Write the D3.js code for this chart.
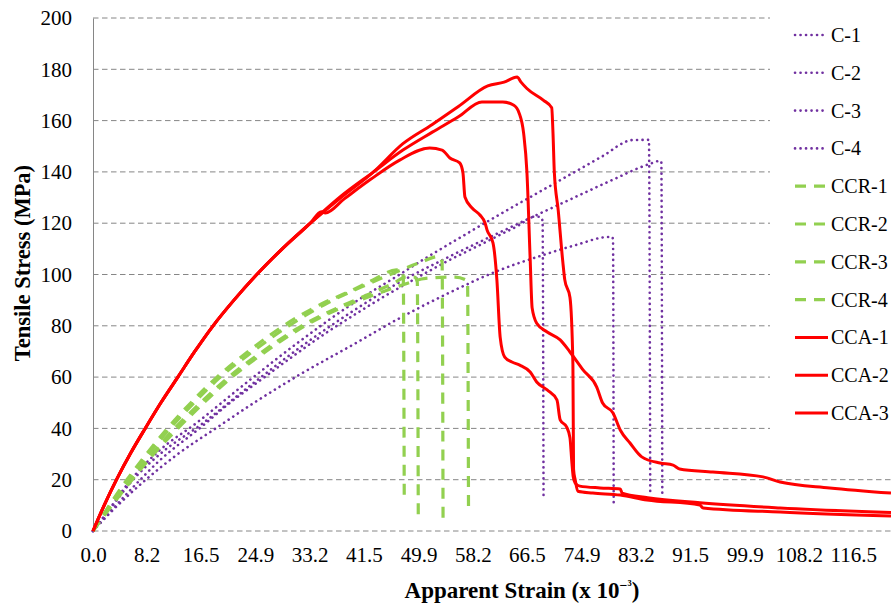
<!DOCTYPE html>
<html lang="en">
<head>
<meta charset="UTF-8">
<title>Tensile Stress vs Apparent Strain</title>
<script src="https://cdn.jsdelivr.net/npm/d3@7"></script>
<style>
  body { margin: 0; background: #fff; }
  svg text { font-family: "Liberation Serif", "Times New Roman", Times, "DejaVu Serif", serif; fill: #000; }
</style>
</head>
<body>
<svg id="main" width="891" height="603"></svg>
<script>
// axis ticks
const xTickLabels = ["0.0", "8.2", "16.5", "24.9", "33.2", "41.5", "49.9", "58.2", "66.5", "74.9", "83.2", "91.5", "99.9", "108.2", "116.5"];
const yTicks = [0, 20, 40, 60, 80, 100, 120, 140, 160, 180, 200];

// series names, in legend order
const seriesNames = ["C-1", "C-2", "C-3", "C-4", "CCR-1", "CCR-2", "CCR-3", "CCR-4", "CCA-1", "CCA-2", "CCA-3"];

// [apparent strain (x10^-3), tensile stress (MPa)]
const c1 = [[0,0],[3,8.5],[6.3,17.5],[10,27],[16.8,41],[21,50],[25.5,58.5],[30.3,67.5],[35.3,76.5],[40.5,85],[45,92],[49.5,98.5],[54.7,105.7],[58.5,110.5],[62.4,115.5],[65.5,119.5],[67.5,122.5],[68.5,122.5],[68.9,121],[69.05,12]];
const c2 = [[0,0],[3,8],[8.1,20],[13,30],[18.8,40],[25,50.5],[31.7,61],[39.4,72],[47,83],[54.7,93],[62.4,101.8],[69,107.6],[74,111.5],[79,114.6],[79.6,114.6],[79.7,113],[79.8,10]];
const c3 = [[0,0],[2.5,8.5],[5.5,19],[10,31],[15.8,42],[23.6,58],[31.7,74],[40,89],[47,100],[50.1,105],[56,114],[62.4,123.5],[73.5,139.5],[78,146],[82.7,152.4],[85.2,152.5],[85.4,15]];
const c4 = [[0,0],[2.6,8.5],[5.8,19],[10.5,30.5],[16.3,41],[24.5,57.5],[32.5,73],[40,86],[47,97],[53.6,105.7],[62.4,116.5],[74.6,131],[79.7,137],[85.4,143.2],[86.9,144.3],[87.1,144],[87.25,14.8]];
const ccr1 = [[0,0],[2.5,10],[5.2,20],[8.2,30],[11.4,40],[15,50],[19,60],[23.8,70],[29.2,80],[35,88.5],[39.4,93.5],[43,98],[46.5,101.8],[47.4,101],[47.55,99],[47.7,13]];
const ccr2 = [[0,0],[2.8,10],[5.8,20],[9,30],[12.5,40],[16.5,50],[20.8,60],[26,70],[32,80],[37.5,87],[42,92],[46,96.5],[48,99],[49.3,99],[49.7,97],[49.85,6]];
const ccr3 = [[0,0],[2.6,10],[5.4,20],[8.5,30],[11.8,40],[15.5,50],[19.5,60],[24.5,70],[30,80],[36,89],[41,95],[46,100.5],[50,104.5],[53,107],[53.5,105],[53.65,3.5]];
const ccr4 = [[0,0],[2.9,10],[6,20],[9.3,30],[13,40],[17,50],[21.3,60],[26.5,70],[32.5,80],[38,87],[43,92],[47.5,96],[51,98.5],[55.5,99],[57.4,97.5],[57.55,7]];
const cca1 = [[0,0],[1.8,10.5],[3.7,20.5],[5.8,30.5],[8,40],[10.4,50],[13,60],[15.6,70],[18.4,80],[21.6,90],[25.1,100],[29,110],[33.3,120],[38,130],[43,140],[47.5,151],[52,158.5],[56,165.5],[60.5,173.5],[63,175],[65,177],[65.6,175],[66.5,172.5],[69,168],[70.3,165],[70.5,155],[70.7,140],[71.3,125],[72,105],[72.3,98],[73.1,91],[73.55,65],[73.65,24],[73.9,20],[74.3,15.5],[76.6,14.8],[80.8,14],[84.9,12.1],[93,10.1],[93.5,9],[105.3,7.4],[122.3,5.8]];
const cca2 = [[0,0],[1.8,10.5],[3.7,20.5],[5.8,30.5],[8,40],[10.4,50],[13,60],[15.6,70],[18.4,80],[21.6,90],[25.1,100],[29,110],[33.3,120],[38,130.5],[43,140],[47.5,148.5],[52,155.5],[56,161.5],[59.6,167.3],[62.8,167.3],[64.5,166],[65.3,163],[66,155],[66.5,140],[67,106],[67.3,87],[68,81],[69.6,77.6],[71.6,74.5],[73.1,69.8],[75.1,62.8],[77.2,56.1],[78.1,49.9],[79.7,46],[80.8,39.4],[82.3,34.3],[84.1,28.9],[86.9,26.5],[88.9,25.7],[89.9,24.2],[95,23],[102.7,21.1],[105.3,19.1],[112.9,16.8],[122.3,14.8]];
const cca3 = [[0,0],[1.8,10.5],[3.7,20.5],[5.8,30.5],[8,40],[10.4,50],[13,60],[15.6,70],[18.4,80],[21.6,90],[25.1,100],[29,110],[33.3,120],[35,124.5],[35.6,124],[38.5,129.5],[42.5,137],[47,144.6],[51.6,149.3],[53.5,148.5],[54.7,145.4],[56.2,143.5],[56.7,139.6],[57,130.2],[58.1,125.9],[59.3,123.2],[60.1,120],[60.4,117.3],[61.3,112.3],[61.9,97.9],[62.4,75.6],[63.1,67.8],[64.2,65.9],[65.4,64.7],[67,62],[68,58.1],[69.6,55],[71.1,51.1],[71.6,43.3],[72.6,40.5],[73.1,36.3],[73.4,26.5],[73.6,21.1],[73.9,18.7],[74.6,17.5],[77.7,16.8],[80.8,16.4],[81.1,14.8],[85,13],[93,11],[105.3,9],[122.3,7.2]];

const seriesData = [c1, c2, c3, c4, ccr1, ccr2, ccr3, ccr4, cca1, cca2, cca3];

const styles = {
    C:   { stroke: "#7030a0", width: 2.6, dash: "0.1,5.4", cap: "round" },
    CCR: { stroke: "#92d050", width: 3.2, dash: "11,8", cap: "butt" },
    CCA: { stroke: "#ff0000", width: 3, dash: null, cap: "butt" }
};
function styleOf(name) { return styles[name.split("-")[0]]; }

const FONT = '"Liberation Serif", "Times New Roman", Times, "DejaVu Serif", serif';

const svg = d3.select("#main");
const x = d3.scaleLinear().domain([0, 122.3]).range([93, 891]);
const y = d3.scaleLinear().domain([0, 200]).range([531, 18]);

// gridlines
svg.append("g")
    .selectAll("line")
    .data(yTicks)
    .join("line")
    .attr("x1", x(0))
    .attr("x2", x(122.3))
    .attr("y1", d => y(d))
    .attr("y2", d => y(d))
    .attr("stroke", "#868686")
    .attr("stroke-width", 1)
    .attr("stroke-dasharray", "5.5,3.5");

// y axis
const yAxis = svg.append("g")
    .attr("transform", `translate(${x(0)},0)`)
    .call(d3.axisLeft(y).tickValues(yTicks).tickSize(0).tickPadding(21).tickFormat(d3.format("d")));
yAxis.attr("font-family", FONT).attr("font-size", 21);
yAxis.select(".domain").attr("stroke", "#868686");

// x axis (labels only)
const xAxis = svg.append("g")
    .attr("transform", `translate(0,${y(0)})`)
    .call(d3.axisBottom(x).tickValues(xTickLabels.map(Number)).tickSize(0).tickPadding(16)
        .tickFormat((d, i) => xTickLabels[i]));
xAxis.attr("font-family", FONT).attr("font-size", 21);
xAxis.select(".domain").remove();

// series
const line = d3.line().x(d => x(d[0])).y(d => y(d[1])).curve(d3.curveMonotoneX);
svg.append("g")
    .selectAll("path")
    .data(seriesData)
    .join("path")
    .attr("d", line)
    .attr("fill", "none")
    .attr("stroke", (d, i) => styleOf(seriesNames[i]).stroke)
    .attr("stroke-width", (d, i) => styleOf(seriesNames[i]).width)
    .attr("stroke-dasharray", (d, i) => styleOf(seriesNames[i]).dash)
    .attr("stroke-linecap", (d, i) => styleOf(seriesNames[i]).cap)
    .attr("stroke-linejoin", "round");

// legend
const legend = svg.append("g");
legend.append("rect")
    .attr("x", 770).attr("y", 0).attr("width", 121).attr("height", 455)
    .attr("fill", "#fff");
const item = legend.selectAll("g")
    .data(seriesNames)
    .join("g")
    .attr("transform", (d, i) => `translate(795,${35 + i * 37.8})`);
item.append("line")
    .attr("x1", 0).attr("x2", 33)
    .attr("stroke", d => styleOf(d).stroke)
    .attr("stroke-width", d => styleOf(d).width)
    .attr("stroke-dasharray", d => styleOf(d).dash)
    .attr("stroke-linecap", d => styleOf(d).cap);
item.append("text")
    .attr("x", 36)
    .attr("dy", "0.35em")
    .attr("font-family", FONT)
    .attr("font-size", 20)
    .text(d => d);

// axis titles
svg.append("text")
    .attr("transform", "translate(30,263) rotate(-90)")
    .attr("text-anchor", "middle")
    .attr("font-family", FONT)
    .attr("font-size", 22.5)
    .attr("font-weight", "bold")
    .text("Tensile Stress (MPa)");

const xt = svg.append("text")
    .attr("x", 522)
    .attr("y", 598)
    .attr("text-anchor", "middle")
    .attr("font-family", FONT)
    .attr("font-size", 23)
    .attr("font-weight", "bold");
xt.append("tspan").text("Apparent Strain (x 10");
xt.append("tspan").attr("dy", -8).attr("font-size", 14).text("\u2212\u00b3");
xt.append("tspan").attr("dy", 8).text(")");
</script>
</body>
</html>
